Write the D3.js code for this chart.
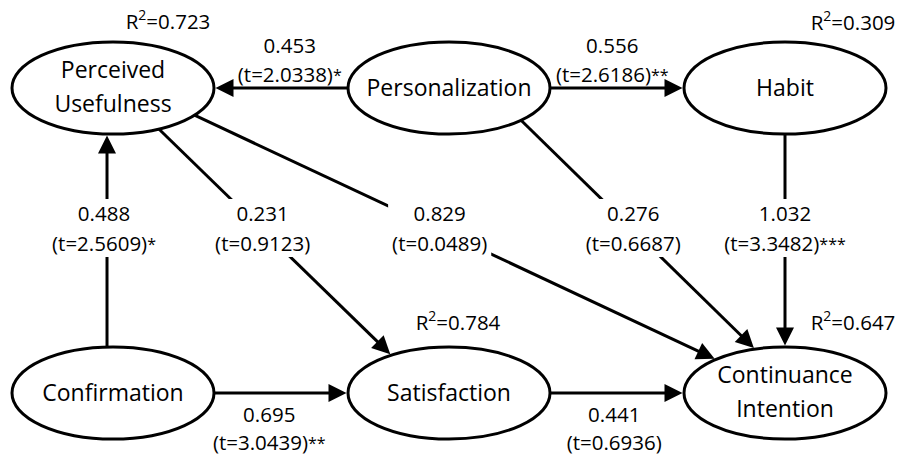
<!DOCTYPE html>
<html>
<head>
<meta charset="utf-8">
<script src="https://cdn.jsdelivr.net/npm/d3@7"></script>
<style>
  body { margin: 0; background: #fff; }
  text { font-family: "Open Sans", sans-serif; fill: #000; }
</style>
</head>
<body>
<script>
// --- values ---
var nodeNames = ["Perceived Usefulness", "Personalization", "Habit",
                 "Confirmation", "Satisfaction", "Continuance Intention"];
var rSquared = [0.723, null, 0.309, null, 0.784, 0.647];

var pathFrom  = [1, 1, 3, 0, 0, 1, 2, 3, 4];
var pathTo    = [0, 2, 0, 4, 5, 5, 5, 4, 5];
var pathCoef  = [0.453, 0.556, 0.488, 0.231, 0.829, 0.276, 1.032, 0.695, 0.441];
var pathT     = [2.0338, 2.6186, 2.5609, 0.9123, 0.0489, 0.6687, 3.3482, 3.0439, 0.6936];
var pathStars = ["*", "**", "*", "", "", "", "***", "**", ""];

// --- layout ---
var width = 901, height = 459;
var nodeCol = [0, 1, 2, 0, 1, 2];
var nodeRow = [0, 0, 0, 1, 1, 1];
var r2Dx = [55, 0, 68, 0, 9, 68];
var r2Dy = [-59, 0, -58, 0, -63, -63];
// where each path leaves / enters its ellipse (degrees, y down)
var portFrom = [180, 0, -93.4, 63, 36.2, 44.5, 90, 0, 0];
var portTo   = [0, 180, 93.4, -124.8, -133.1, -107.3, -90, 180, 180];
var labelPos = ["above", "above", "band", "band", "band", "band", "band", "below", "below"];
var labelDx  = [8, -4, -3, 0, 0, 0, 0, -11, -2];

var rx = 101, ry = 46;
var bandY = 230;

var x = d3.scalePoint().domain([0, 1, 2]).range([113, 785]);
var y = d3.scalePoint().domain([0, 1]).range([88, 393]);
var fmtCoef = d3.format(".3f");
var fmtT = d3.format(".4f");

var svg = d3.select("body").append("svg")
    .attr("width", width)
    .attr("height", height);

function port(i, deg) {
  var a = deg * Math.PI / 180;
  return [x(nodeCol[i]) + rx * Math.cos(a), y(nodeRow[i]) + ry * Math.sin(a)];
}

var edges = pathFrom.map(function(f, i) {
  var s = port(f, portFrom[i]);
  var t = port(pathTo[i], portTo[i]);
  var len = Math.hypot(t[0] - s[0], t[1] - s[1]);
  var ux = (t[0] - s[0]) / len, uy = (t[1] - s[1]) / len;
  var tip = [t[0] - ux * 1.5, t[1] - uy * 1.5];
  return {s: s, tip: tip, ux: ux, uy: uy, i: i};
});

var lines = svg.append("g");
var labels = svg.append("g");
var nodes = svg.append("g");
var heads = svg.append("g");

lines.selectAll("line").data(edges).enter().append("line")
    .attr("x1", function(d) { return d.s[0]; })
    .attr("y1", function(d) { return d.s[1]; })
    .attr("x2", function(d) { return d.tip[0] - d.ux * 14; })
    .attr("y2", function(d) { return d.tip[1] - d.uy * 14; })
    .attr("stroke", "#000")
    .attr("stroke-width", 3);

heads.selectAll("path").data(edges).enter().append("path")
    .attr("d", function(d) {
      var L = 18, w = 9;
      var bx = d.tip[0] - d.ux * L, by = d.tip[1] - d.uy * L;
      var px = -d.uy * w, py = d.ux * w;
      return "M" + d.tip[0] + "," + d.tip[1] +
             "L" + (bx + px) + "," + (by + py) +
             "L" + (bx - px) + "," + (by - py) + "Z";
    })
    .attr("fill", "#000");

// path labels
edges.forEach(function(d) {
  var i = d.i, lx, b1, b2;
  if (labelPos[i] == "band") {
    if (Math.abs(d.tip[0] - d.s[0]) < 1e-6) lx = d.s[0] + labelDx[i];
    else lx = d.s[0] + (bandY - d.s[1]) * (d.tip[0] - d.s[0]) / (d.tip[1] - d.s[1]);
    b1 = bandY - 9; b2 = bandY + 21;
  } else {
    lx = (d.s[0] + d.tip[0]) / 2 + labelDx[i];
    if (labelPos[i] == "above") { b1 = d.s[1] - 35; b2 = d.s[1] - 6; }
    else { b1 = d.s[1] + 29; b2 = d.s[1] + 57; }
  }
  var g = labels.append("g");
  var bg = g.append("rect").attr("fill", "#fff");
  g.append("text")
      .attr("x", lx).attr("y", b1)
      .attr("text-anchor", "middle")
      .attr("font-size", 20.5)
      .text(fmtCoef(pathCoef[i]));
  var t2 = g.append("text")
      .attr("x", lx).attr("y", b2)
      .attr("text-anchor", "middle")
      .attr("font-size", 20.5);
  t2.append("tspan").text("(t=" + fmtT(pathT[i]) + ")");
  if (pathStars[i]) {
    t2.append("tspan").attr("font-size", 16).attr("dy", -1).text(pathStars[i]);
  }
  if (labelPos[i] == "band") {
    var bb = g.node().getBBox();
    bg.attr("x", bb.x - 4).attr("y", bb.y)
      .attr("width", bb.width + 8).attr("height", bb.height);
  } else {
    bg.remove();
  }
});

// nodes
var node = nodes.selectAll("g").data(nodeNames).enter().append("g")
    .attr("transform", function(d, i) { return "translate(" + x(nodeCol[i]) + "," + y(nodeRow[i]) + ")"; });

node.append("ellipse")
    .attr("rx", rx).attr("ry", ry)
    .attr("fill", "#fff")
    .attr("stroke", "#000")
    .attr("stroke-width", 3);

node.each(function(name) {
  var words = name.split(" ");
  var g = d3.select(this);
  words.forEach(function(w, k) {
    g.append("text")
        .attr("text-anchor", "middle")
        .attr("font-size", 23)
        .attr("y", words.length == 1 ? 8 : (k == 0 ? -10 : 24))
        .text(w);
  });
});

// R squared
nodeNames.forEach(function(name, i) {
  if (rSquared[i] == null) return;
  var t = svg.append("text")
      .attr("x", x(nodeCol[i]) + r2Dx[i])
      .attr("y", y(nodeRow[i]) + r2Dy[i])
      .attr("text-anchor", "middle")
      .attr("font-size", 20.5);
  t.append("tspan").text("R");
  t.append("tspan").attr("font-size", 14).attr("dy", -9).text("2");
  t.append("tspan").attr("dy", 9).text("=" + fmtCoef(rSquared[i]));
});
</script>
</body>
</html>
